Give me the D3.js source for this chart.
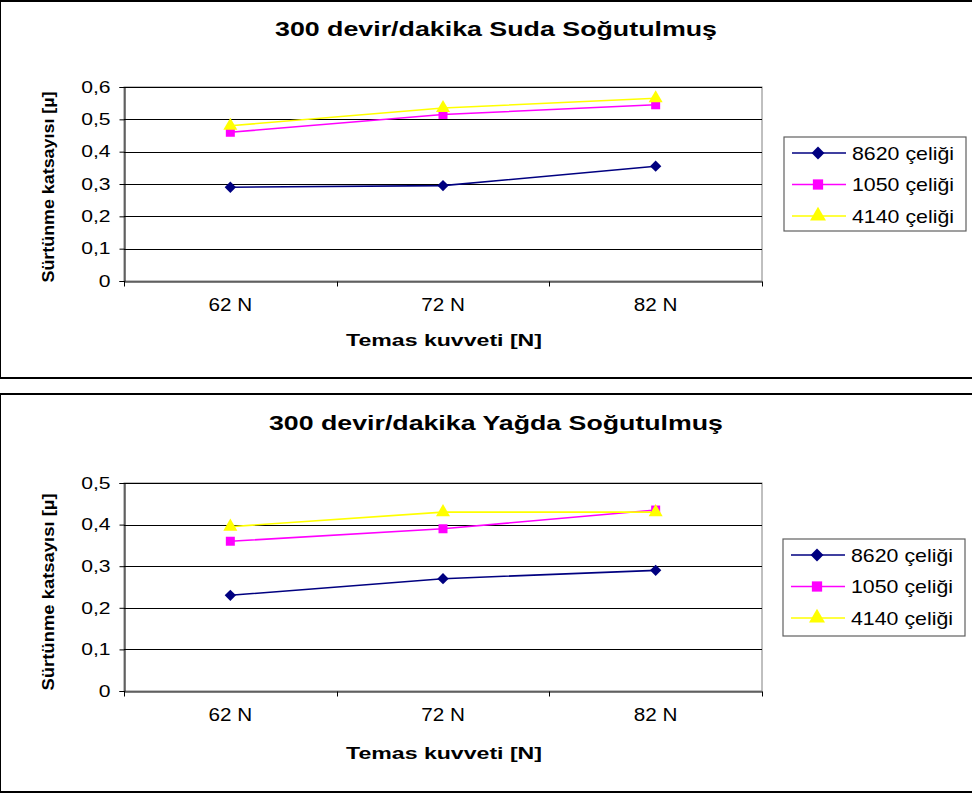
<!DOCTYPE html>
<html><head><meta charset="utf-8">
<script src="https://cdnjs.cloudflare.com/ajax/libs/d3/7.8.5/d3.min.js"></script>
<style>
html,body{margin:0;padding:0;background:#fff;}
svg text{font-family:"Liberation Sans",Arial,sans-serif;fill:#000;}
</style></head>
<body>
<svg id="c" width="972" height="794"></svg>
<script>
const categories = ["62 N", "72 N", "82 N"];
const seriesNames = ["8620 çeliği", "1050 çeliği", "4140 çeliği"];
const waterTitle = "300 devir/dakika Suda Soğutulmuş";
const oilTitle = "300 devir/dakika Yağda Soğutulmuş";
const waterS8620 = [0.29, 0.295, 0.355];
const waterS1050 = [0.46, 0.515, 0.545];
const waterS4140 = [0.48, 0.535, 0.565];
const oilS8620 = [0.23, 0.27, 0.29];
const oilS1050 = [0.36, 0.39, 0.435];
const oilS4140 = [0.395, 0.43, 0.43];
const waterTicks = [0, 0.1, 0.2, 0.3, 0.4, 0.5, 0.6];
const oilTicks = [0, 0.1, 0.2, 0.3, 0.4, 0.5];
const yLabel = "Sürtünme katsayısı [µ]";
const xLabel = "Temas kuvveti [N]";

const colors = ["#000080", "#FF00FF", "#FFFF00"];
const symbols = [d3.symbolSquare, d3.symbolSquare, d3.symbolTriangle];
const symRot = [45, 0, 0];
const symSizes = [64, 81, 85];

const svg = d3.select("#c");
const fmt = v => String(v).replace(".", ",");

function stretch(sel, factor){
  sel.each(function(){
    const w = this.getComputedTextLength();
    this.setAttribute("textLength", w * factor);
    this.setAttribute("lengthAdjust", "spacingAndGlyphs");
  });
}
function fixed(sel, w){
  sel.attr("textLength", w).attr("lengthAdjust", "spacingAndGlyphs");
}

function chart(cfg){
  const g = svg.append("g");
  g.append("rect").attr("x", cfg.fx).attr("y", cfg.fy).attr("width", 1000).attr("height", cfg.fh)
    .attr("fill", "#fff").attr("stroke", "#000").attr("stroke-width", 2);

  const t = g.append("text").attr("x", 496).attr("y", cfg.titleY).attr("text-anchor", "middle")
    .attr("font-size", 21).attr("font-weight", "bold").text(cfg.title);
  fixed(t, cfg.titleW);

  const x = d3.scaleBand().domain(categories).range([124, 762]).padding(0);
  const y = d3.scaleLinear().domain([0, d3.max(cfg.ticks)]).range([cfg.bottom, cfg.top]);

  g.append("rect").attr("x", 124).attr("y", cfg.top).attr("width", 638).attr("height", cfg.bottom - cfg.top)
    .attr("fill", "none").attr("stroke", "#808080").attr("stroke-width", 1);

  g.append("g").selectAll("line").data(cfg.ticks.filter(v => v > 0)).join("line")
    .attr("x1", 124).attr("x2", 762).attr("y1", d => Math.round(y(d)) + 0.5).attr("y2", d => Math.round(y(d)) + 0.5)
    .attr("stroke", "#000").attr("stroke-width", 1);

  const ya = g.append("g").attr("transform", "translate(124.5,0)")
    .call(d3.axisLeft(y).tickValues(cfg.ticks).tickFormat(fmt).tickSize(5).tickPadding(9));
  ya.select(".domain").attr("stroke", "#000");
  ya.selectAll(".tick line").attr("stroke", "#000");
  ya.selectAll(".tick text").attr("font-size", 16.5).attr("font-family", "Liberation Sans, Arial").attr("fill", "#000").call(stretch, 1.28);

  const xa = g.append("g").attr("transform", `translate(0,${Math.round(cfg.bottom) + 0.5})`)
    .call(d3.axisBottom(x).tickSize(0).tickPadding(17));
  xa.select(".domain").attr("stroke", "#000");
  xa.selectAll(".tick text").attr("font-size", 17.5).attr("font-family", "Liberation Sans, Arial").attr("fill", "#000").call(stretch, 1.18);
  const bounds = categories.map(c => x(c)).concat([x.range()[1]]);
  xa.selectAll(".bt").data(bounds).join("line").attr("class", "bt")
    .attr("x1", d => Math.round(d) + 0.5).attr("x2", d => Math.round(d) + 0.5).attr("y1", 0).attr("y2", 5)
    .attr("stroke", "#000");

  const yl = g.append("text").attr("transform", `translate(54,${cfg.ylc}) rotate(-90)`).attr("text-anchor", "middle")
    .attr("font-size", 16).attr("font-weight", "bold").text(yLabel);
  fixed(yl, cfg.ylw);
  const xl = g.append("text").attr("x", 444).attr("y", cfg.xlY).attr("text-anchor", "middle")
    .attr("font-size", 16).attr("font-weight", "bold").text(xLabel);
  fixed(xl, 196);

  const line = d3.line().x((d, i) => x(categories[i]) + x.bandwidth() / 2).y(d => y(d));
  cfg.series.forEach((s, k) => {
    g.append("path").datum(s).attr("d", line).attr("fill", "none").attr("stroke", colors[k]).attr("stroke-width", 1.6);
  });
  cfg.series.forEach((s, k) => {
    g.append("g").selectAll("path").data(s).join("path")
      .attr("transform", (d, i) => `translate(${x(categories[i]) + x.bandwidth() / 2},${y(d)}) rotate(${symRot[k]})`)
      .attr("d", d3.symbol().type(symbols[k]).size(symSizes[k]))
      .attr("fill", colors[k]).attr("stroke", "none");
  });

  const lg = g.append("g");
  lg.append("rect").attr("x", cfg.lx).attr("y", cfg.ly).attr("width", 182).attr("height", cfg.lh)
    .attr("fill", "#fff").attr("stroke", "#606060").attr("stroke-width", 1.2);
  seriesNames.forEach((n, k) => {
    const cy = cfg.ly + 16 + k * 31.5;
    lg.append("line").attr("x1", cfg.lx + 8).attr("x2", cfg.lx + 62).attr("y1", cy).attr("y2", cy)
      .attr("stroke", colors[k]).attr("stroke-width", 1.6);
    lg.append("path").attr("transform", `translate(${cfg.lx + 34},${cy}) rotate(${symRot[k]})`)
      .attr("d", d3.symbol().type(symbols[k]).size(symSizes[k] * 1.3)).attr("fill", colors[k]);
    const tt = lg.append("text").attr("x", cfg.lx + 68).attr("y", cy + 6.5).attr("font-size", 18.5).text(n);
    fixed(tt, 102);
  });
}

chart({fy: 1, fh: 377, title: waterTitle, titleY: 36, titleW: 442, top: 87, bottom: 281, ticks: waterTicks,
  series: [waterS8620, waterS1050, waterS4140], ylc: 187, ylw: 191, xlY: 346, lx: 784, ly: 137, lh: 94});
chart({fy: 394, fh: 398, title: oilTitle, titleY: 430, titleW: 454, top: 483, bottom: 691, ticks: oilTicks,
  series: [oilS8620, oilS1050, oilS4140], ylc: 592, ylw: 197, xlY: 759, lx: 783, ly: 539, lh: 97});
</script>
</body></html>
